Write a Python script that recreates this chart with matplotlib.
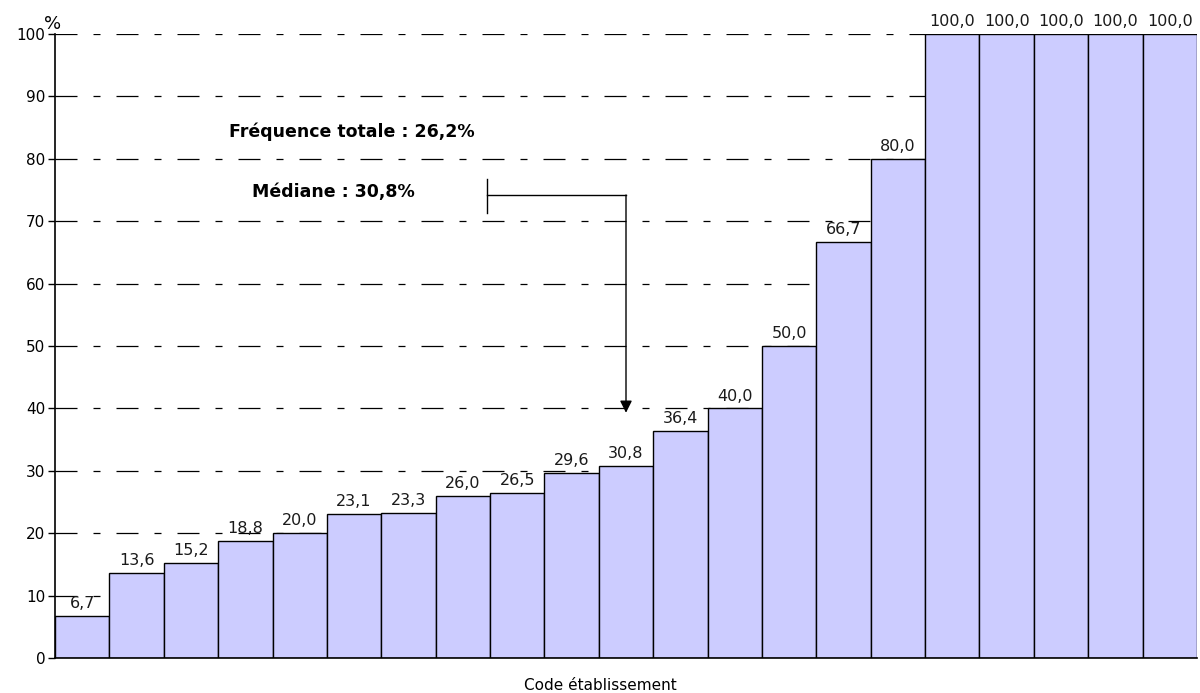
import matplotlib
matplotlib.use("Agg")
import matplotlib.pyplot as plt
import numpy as np

# Taux par établissement, triés par ordre croissant
values = [6.7, 13.6, 15.2, 18.8, 20.0, 23.1, 23.3, 26.0, 26.5, 29.6, 30.8,
          36.4, 40.0, 50.0, 66.7, 80.0, 100.0, 100.0, 100.0, 100.0, 100.0]
yticks = [0, 10, 20, 30, 40, 50, 60, 70, 80, 90, 100]
freq_totale = 26.2
mediane = 30.8
median_index = values.index(mediane)

plt.rcParams['font.family'] = ['DejaVu Sans']

fig = plt.figure(figsize=(12, 6.93), dpi=100)
ax = fig.add_axes([55/1200, 35/693, 1142/1200, 624/693])

x = np.arange(len(values))
ax.bar(x, values, width=1.0, color='#CCCCFF', edgecolor='black',
       linewidth=1.0, zorder=3)

for xi, v in zip(x, values):
    ax.annotate(f"{v:.1f}".replace('.', ','), (xi, v), xytext=(0, 3.5),
                textcoords='offset points', ha='center', va='bottom',
                fontsize=11.5, color='#1a1a1a', zorder=4)

ax.set_xlim(-0.5, len(values) - 0.5)
ax.set_ylim(0, 100)
ax.set_yticks(yticks)
ax.set_yticklabels([str(t) for t in yticks], fontsize=11)
ax.set_xticks([])
ax.tick_params(axis='y', length=5, width=1, direction='out', pad=2)

# Quadrillage en tirets long / court
lw_grid = 0.9
dash_px = (22, 16, 7, 16)
dash = tuple(d / (100 / 72) / lw_grid for d in dash_px)
for t in yticks[1:]:
    ax.axhline(t, color='black', linewidth=lw_grid, dashes=dash, zorder=1)

for side in ('top', 'right'):
    ax.spines[side].set_visible(False)
for side in ('left', 'bottom'):
    ax.spines[side].set_linewidth(1.2)
    ax.spines[side].set_zorder(5)

fig.text(600/1200, 1 - 685/693, "Code établissement", fontsize=11,
         ha='center', va='center')
fig.text(53/1200, 1 - 24/693, "%", fontsize=13, ha='center', va='center')

ax.text(4.96, 84.4, f"Fréquence totale : {freq_totale:.1f}%".replace('.', ','),
        fontsize=12.5, fontweight='bold', ha='center', va='center')
ax.text(4.61, 74.6, f"Médiane : {mediane:.1f}%".replace('.', ','),
        fontsize=12.5, fontweight='bold', ha='center', va='center')

# Crochet pointant vers la barre médiane
bx = 7.45
yh = 74.2
ax.plot([bx, bx], [71.3, 76.7], color='black', linewidth=1, zorder=6)
ax.plot([bx, median_index], [yh, yh], color='black', linewidth=1, zorder=6)
ax.annotate("", xy=(median_index, 39.3), xytext=(median_index, yh),
            arrowprops=dict(arrowstyle='-|>', color='black', lw=1,
                            mutation_scale=18, shrinkA=0, shrinkB=0),
            zorder=6)

fig.savefig("out.png", dpi=100)
